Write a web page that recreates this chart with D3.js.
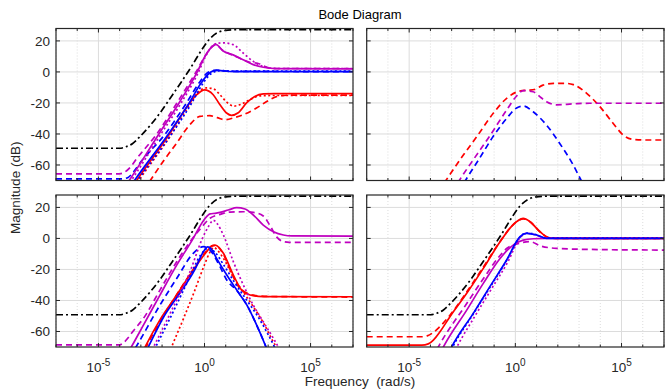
<!DOCTYPE html>
<html>
<head>
<meta charset="utf-8">
<script src="https://cdn.jsdelivr.net/npm/d3@7"></script>
<style>
  body { margin: 0; background: #fff; }
  svg { display: block; font-family: "Liberation Sans", Arial, sans-serif; }
</style>
</head>
<body>
<svg id="chart" width="667" height="392"></svg>
<script>
// ---- data: each curve is a list of [log10(w), dB] ----
const xMajor = [1e-5, 1, 1e5];
const xMajorExp = ["-5", "0", "5"];
const yTicks = [-60, -40, -20, 0, 20];

const black = [[-7,-49.2],[-4.0,-49.2],[-3.7,-48.2],[-3.4,-46.3],[-3.05,-41.8],[-2.58,-34.8],[-2.1,-26.5],[-1.6,-16.6],[-1.1,-6.6],[-0.6,3.8],[-0.2,12.8],[0.2,20.6],[0.6,25.2],[1.1,27],[1.6,27.3],[7,27.3]];

// row 1, column 1
const tlMagSolid = [[-3.85,-76],[-3.55,-70],[-2.15,-40],[-1.2,-20],[-0.34,0],[0.02,10],[0.3,15.5],[0.53,17.8],[0.88,13.5],[1.35,11],[1.82,7.8],[2.3,4.7],[2.77,3],[3.4,2.1],[7,2]];
const tlMagDash = [[-7,-65.7],[-4.0,-65.7],[-3.75,-64.5],[-3.5,-61.5],[-3.2,-56],[-2.25,-40],[-1.3,-20],[-0.4,0],[0,9.5],[0.3,15.5],[0.53,17.5],[0.85,14],[1.3,11],[1.8,8],[2.2,6],[2.5,5.6],[2.8,3.8],[3.2,2.2],[7,2.2]];
const tlMagDot = [[-3.75,-76],[-3.45,-70],[-2.05,-40],[-1.1,-20],[-0.28,0],[0.05,10],[0.35,16.5],[0.6,18.5],[0.9,18.7],[1.35,17.6],[1.82,12.2],[2.3,6.8],[2.77,3.5],[3.4,2.2],[7,2.2]];
const tlBlueSolid = [[-3.6,-76],[-3.3,-70],[-1.7,-40],[-0.72,-20],[-0.2,-8],[0.1,-2.5],[0.3,0],[0.57,1.2],[0.9,0.6],[1.5,0.2],[7,0.2]];
const tlBlueDash = [[-7,-69],[-3.9,-69],[-3.6,-68],[-3.35,-64.5],[-3.0,-58],[-1.85,-40],[-0.85,-20],[-0.25,-7],[0.1,-1],[0.4,0.9],[0.7,1],[1.2,0.4],[7,0.2]];
const tlBlueDot = [[-3.45,-76],[-3.15,-70],[-1.55,-40],[-0.6,-20],[-0.1,-8],[0.2,-2.5],[0.45,0],[0.75,0.8],[1.2,0.6],[7,0.5]];
const tlRedSolid = [[-3.5,-76],[-3.2,-70],[-1.65,-40],[-0.75,-21],[-0.35,-14.5],[0,-11.6],[0.41,-14.7],[0.72,-21],[1.04,-26.5],[1.27,-28],[1.59,-26.3],[1.98,-20],[2.37,-15.8],[2.77,-14.2],[3.3,-14],[7,-14]];
const tlRedDash = [[-2.85,-76],[-2.58,-70.5],[-1.95,-57.7],[-1.32,-46],[-0.69,-34],[-0.22,-28.7],[0.25,-28.2],[0.6,-29.5],[0.96,-30.8],[1.4,-29.5],[1.82,-27.6],[2.45,-23.3],[3.08,-17.9],[3.5,-15.5],[4,-15],[7,-15]];
const tlRedDot = [[-3.4,-76],[-3.1,-70],[-1.55,-40],[-0.7,-21],[-0.3,-13],[0.1,-10.3],[0.4,-10.8],[0.75,-15],[1.05,-19.5],[1.38,-22],[1.7,-21],[2.14,-17.8],[2.6,-15.5],[3.2,-15.2],[7,-15.2]];

// row 1, column 2 (dashed system only)
const trRedDash = [[-3.6,-77],[-3.27,-70],[-2.45,-53.6],[-1.82,-41.8],[-1.04,-26.7],[-0.41,-17],[0.22,-12.3],[0.6,-11.8],[0.9,-11.3],[1.3,-8.5],[1.8,-7.4],[2.4,-7.4],[2.73,-8.2],[3.36,-13.8],[3.98,-22.4],[4.61,-33.2],[5.08,-40.7],[5.55,-43.5],[6.2,-43.9],[7,-43.9]];
const trMagDash = [[-2.95,-77],[-2.64,-70],[-1.95,-56],[-1.23,-41.8],[-0.41,-24.6],[0.06,-15.5],[0.38,-12],[0.84,-12.8],[1.2,-16.5],[1.47,-19.2],[1.94,-21.2],[2.73,-20.6],[3.51,-20.2],[7,-20.2]];
const trBlueDash = [[-2.65,-77],[-2.35,-70],[-1.7,-56],[-1.04,-41.5],[-0.41,-30],[0.06,-23.2],[0.38,-22],[0.84,-25.7],[1.47,-34.3],[2.09,-46.1],[2.73,-60.1],[3.12,-70.4],[3.4,-77]];

// row 2, column 1
const blMagSolid = [[-3.75,-77],[-3.45,-70],[-2.88,-55.9],[-2.1,-36.5],[-1.31,-17.2],[-0.53,0],[-0.1,10.5],[0.1,14],[0.26,15.8],[0.5,16.2],[0.73,16.8],[1.12,18.3],[1.52,19.8],[1.91,19],[2.3,15.1],[2.77,8.6],[3.25,4.3],[3.72,2.2],[4.1,1.6],[7,1.5]];
const blMagDash = [[-7,-68.6],[-4.0,-68.6],[-3.83,-67.5],[-3.6,-64],[-3.35,-59.5],[-2.88,-51.6],[-2.1,-33.3],[-1.31,-15],[-0.68,-2.1],[-0.21,6],[0.26,13],[0.73,15.5],[1.2,17],[1.83,17.2],[2.3,16.8],[2.77,14.5],[3.1,8],[3.4,1],[3.7,-2],[4.0,-2.5],[7,-2.5]];
const blMagDot = [[-2.65,-77],[-2.4,-70],[-1.5,-45],[-0.7,-22],[-0.1,0],[0.2,8],[0.42,11.7],[0.6,9.5],[0.89,2.2],[1.36,-15],[1.83,-30],[2.3,-43],[2.77,-53.7],[3.25,-64.5],[3.48,-70],[3.7,-76]];
const blBlueSolid = [[-2.9,-77],[-2.65,-70],[-1.9,-50],[-1.2,-36],[-0.45,-20],[-0.05,-8.5],[0.15,-5.5],[0.3,-6.5],[0.57,-12.9],[1.05,-23.6],[1.52,-33.3],[2.0,-43],[2.46,-55.9],[2.9,-70],[3.1,-77]];
const blBlueDash = [[-3.5,-76],[-3.23,-70],[-2.1,-43],[-1.31,-25.8],[-0.53,-9.6],[-0.05,-5.3],[0.26,-7.5],[0.73,-18.2],[1.05,-26.8],[1.52,-33.5],[2.0,-43],[2.46,-55.9],[2.9,-70],[3.1,-77]];
const blBlueDot = [[-2.55,-77],[-2.3,-70],[-1.5,-48],[-0.7,-25],[-0.2,-11],[0.2,-6.2],[0.5,-9],[0.9,-17],[1.4,-28],[2.0,-40],[2.5,-50],[3.0,-62],[3.3,-70],[3.5,-76]];
const blRedSolid = [[-3.05,-77],[-2.8,-70],[-2.1,-52.5],[-1.31,-36.5],[-0.53,-20.4],[0.1,-8.6],[0.35,-4.8],[0.5,-4.3],[0.7,-6],[0.89,-9.6],[1.36,-23.6],[1.75,-33.3],[2.15,-36.5],[2.77,-37.5],[7,-37.6]];
const blRedDash = [[-3.0,-77],[-2.75,-70],[-2.05,-52.5],[-1.3,-36],[-0.53,-20],[0.1,-8],[0.4,-4.6],[0.55,-4.8],[0.9,-10.5],[1.3,-23],[1.6,-31],[1.9,-34.5],[2.3,-36.6],[3,-37.4],[7,-37.8]];
const blRedDot = [[-1.75,-77],[-1.55,-70],[-1.0,-52],[-0.5,-35],[0,-17],[0.25,-9],[0.45,-5.8],[0.6,-7.5],[0.9,-13],[1.36,-25],[1.8,-34],[2.3,-44],[2.8,-55],[3.3,-68],[3.4,-70],[3.6,-76]];

// row 2, column 2
const brMagSolid = [[-3.65,-77],[-3.39,-70],[-2.29,-46.2],[-1.51,-29],[-0.72,-12.9],[-0.1,-4.3],[0.37,-1.1],[0.85,-0.2],[1.5,0],[7,0]];
const brMagDash = [[-3.9,-77],[-3.63,-70],[-2.29,-42],[-1.51,-26],[-0.72,-11],[-0.41,-6.5],[0.22,-3],[0.69,-2],[1.16,-4.7],[1.94,-6.4],[3.51,-7.1],[7,-7.5]];
const brMagDot = [[-3.0,-77],[-2.75,-70],[-1.9,-50],[-1.1,-32],[-0.35,-15],[0.2,0],[0.5,3.3],[0.9,2.5],[1.4,0.2],[7,0]];
const brBlueSolid = [[-3.25,-77],[-3.0,-70],[-1.98,-48.3],[-1.2,-31.1],[-0.41,-13.9],[0.22,1.1],[0.53,3.2],[1.0,2.2],[1.47,0],[7,0]];
const brBlueDot = [[-3.2,-77],[-2.95,-70],[-1.95,-48],[-1.17,-31],[-0.4,-14],[0.2,0.5],[0.5,3.5],[0.9,2.8],[1.4,0.3],[7,0.2]];
const brRedSolid = [[-7,-68.8],[-4.4,-68.8],[-4.1,-68],[-3.86,-65.5],[-3.55,-60.2],[-3.08,-50.5],[-2.29,-35.4],[-1.51,-19.3],[-0.72,-2.2],[-0.2,7.5],[0.06,10.8],[0.37,12.9],[0.69,10.8],[1.16,4.3],[1.55,0.6],[2,0],[7,0]];
const brRedDash = [[-7,-63.4],[-4.4,-63.4],[-4.15,-62.8],[-3.9,-61],[-3.6,-57.5],[-3.08,-49.5],[-2.29,-34.5],[-1.51,-18.5],[-0.72,-2],[-0.2,7.5],[0.06,10.8],[0.37,12.6],[0.69,10.8],[1.16,4.3],[1.55,0.6],[2,0],[7,0]];

const colors = { k: "#000000", b: "#0000ff", m: "#bf00bf", r: "#ff0000" };
const dashes = { "-": null, "--": "6,4", ":": "2,2.5", "-.": "7,3,2,3" };

const panels = [
  { row: 0, col: 0, curves: [
    [tlRedDash, "r", "--"], [tlRedDot, "r", ":"], [tlRedSolid, "r", "-"],
    [tlBlueDash, "b", "--"], [tlBlueDot, "b", ":"], [tlBlueSolid, "b", "-"],
    [tlMagDash, "m", "--"], [tlMagDot, "m", ":"], [tlMagSolid, "m", "-"],
    [black, "k", "-."] ] },
  { row: 0, col: 1, curves: [
    [trRedDash, "r", "--"], [trMagDash, "m", "--"], [trBlueDash, "b", "--"] ] },
  { row: 1, col: 0, curves: [
    [blRedDot, "r", ":"], [blRedDash, "r", "--"], [blRedSolid, "r", "-"],
    [blBlueDot, "b", ":"], [blBlueDash, "b", "--"], [blBlueSolid, "b", "-"],
    [blMagDot, "m", ":"], [blMagDash, "m", "--"], [blMagSolid, "m", "-"],
    [black, "k", "-."] ] },
  { row: 1, col: 1, curves: [
    [brMagDash, "m", "--"], [brMagSolid, "m", "-"],
    [brRedDash, "r", "--"], [brRedSolid, "r", "-"],
    [brMagDot, "m", ":"], [brBlueSolid, "b", "-"], [brBlueDot, "b", ":"],
    [black, "k", "-."] ] }
];

// ---- layout ----
const cols = [{ x0: 56, x1: 353 }, { x0: 366.7, x1: 664 }];
const rows = [{ y0: 28.5, y1: 180.5 }, { y0: 195, y1: 347 }];
const axisColor = "#262626";
const gridColor = "#dcdcdc";

const svg = d3.select("#chart");

// every decade gets a minor tick / dotted grid line
const decades = d3.range(-7, 8).map(e => Math.pow(10, e));
const xMinor = decades.filter(v => !xMajor.some(m => Math.abs(Math.log10(m) - Math.log10(v)) < 1e-9));

panels.forEach((p, i) => {
  const c = cols[p.col], r = rows[p.row];
  const x = d3.scaleLog().domain([1e-7, 1e7]).range([c.x0, c.x1]);
  const y = d3.scaleLinear().domain([-70, 28]).range([r.y1, r.y0]);

  const g = svg.append("g");

  // grid
  g.selectAll(".xminor").data(xMinor).join("line")
    .attr("x1", d => x(d)).attr("x2", d => x(d))
    .attr("y1", r.y0).attr("y2", r.y1)
    .attr("stroke", gridColor).attr("stroke-dasharray", "1,2");
  g.selectAll(".xmajor").data(xMajor).join("line")
    .attr("x1", d => x(d)).attr("x2", d => x(d))
    .attr("y1", r.y0).attr("y2", r.y1)
    .attr("stroke", gridColor);
  g.selectAll(".ygrid").data(yTicks).join("line")
    .attr("x1", c.x0).attr("x2", c.x1)
    .attr("y1", d => y(d)).attr("y2", d => y(d))
    .attr("stroke", gridColor);

  // curves, clipped to the panel
  const clipId = "clip" + i;
  svg.append("clipPath").attr("id", clipId)
    .append("rect").attr("x", c.x0).attr("y", r.y0)
    .attr("width", c.x1 - c.x0).attr("height", r.y1 - r.y0);

  const line = d3.line()
    .x(d => x(Math.pow(10, d[0])))
    .y(d => y(d[1]))
    .curve(d3.curveMonotoneX);

  const cg = g.append("g").attr("clip-path", `url(#${clipId})`);
  p.curves.forEach(([data, col, style]) => {
    cg.append("path")
      .attr("d", line(data))
      .attr("fill", "none")
      .attr("stroke", colors[col])
      .attr("stroke-width", 1.7)
      .attr("stroke-dasharray", dashes[style]);
  });

  // ticks (inside, on all four sides)
  const tk = g.append("g").attr("stroke", axisColor).attr("stroke-width", 1);
  xMajor.forEach(v => {
    tk.append("line").attr("x1", x(v)).attr("x2", x(v)).attr("y1", r.y1).attr("y2", r.y1 - 4);
    tk.append("line").attr("x1", x(v)).attr("x2", x(v)).attr("y1", r.y0).attr("y2", r.y0 + 4);
  });
  xMinor.forEach(v => {
    tk.append("line").attr("x1", x(v)).attr("x2", x(v)).attr("y1", r.y1).attr("y2", r.y1 - 2.5);
    tk.append("line").attr("x1", x(v)).attr("x2", x(v)).attr("y1", r.y0).attr("y2", r.y0 + 2.5);
  });
  yTicks.forEach(v => {
    tk.append("line").attr("x1", c.x0).attr("x2", c.x0 + 4).attr("y1", y(v)).attr("y2", y(v));
    tk.append("line").attr("x1", c.x1).attr("x2", c.x1 - 4).attr("y1", y(v)).attr("y2", y(v));
  });

  // box
  g.append("rect")
    .attr("x", c.x0).attr("y", r.y0)
    .attr("width", c.x1 - c.x0).attr("height", r.y1 - r.y0)
    .attr("fill", "none").attr("stroke", axisColor).attr("stroke-width", 1.2);

  // tick labels on the outer panels only
  if (p.col === 0) {
    g.selectAll(".ylab").data(yTicks).join("text")
      .attr("x", c.x0 - 6).attr("y", d => y(d))
      .attr("dy", "0.35em")
      .attr("text-anchor", "end")
      .attr("font-size", 13.5)
      .attr("fill", axisColor)
      .text(d => String(d));
  }
  if (p.row === 1) {
    xMajor.forEach((v, k) => {
      const t = g.append("text")
        .attr("x", x(v)).attr("y", r.y1 + 25)
        .attr("text-anchor", "middle")
        .attr("font-size", 13.5)
        .attr("fill", axisColor);
      t.append("tspan").text("10");
      t.append("tspan").attr("dy", -6).attr("font-size", 10).text(xMajorExp[k]);
    });
  }
});

// titles
svg.append("text")
  .attr("x", (cols[0].x0 + cols[1].x1) / 2).attr("y", 19)
  .attr("text-anchor", "middle").attr("font-size", 13).attr("fill", "#000")
  .text("Bode Diagram");

svg.append("text")
  .attr("x", (cols[0].x0 + cols[1].x1) / 2).attr("y", 386)
  .attr("text-anchor", "middle").attr("font-size", 13.5).attr("fill", axisColor)
  .style("white-space", "pre")
  .text("Frequency  (rad/s)");

svg.append("text")
  .attr("transform", `translate(20,${(rows[0].y0 + rows[1].y1) / 2}) rotate(-90)`)
  .attr("text-anchor", "middle").attr("font-size", 13.5).attr("fill", axisColor)
  .text("Magnitude (dB)");
</script>
</body>
</html>
